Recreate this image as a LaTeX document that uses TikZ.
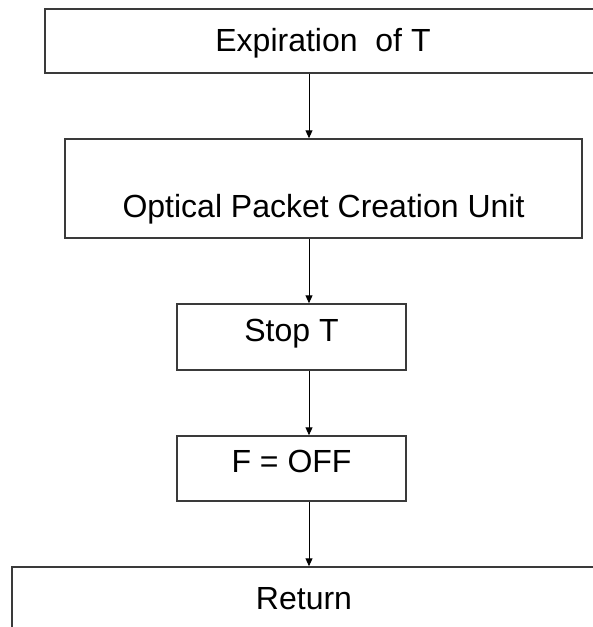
\documentclass[tikz,border=0pt]{standalone}
\usepackage{fontspec}
\setmainfont{Liberation Sans}
\usetikzlibrary{arrows.meta}
\definecolor{boxgray}{HTML}{3A3A3A}
\tikzset{
  box/.style={draw=boxgray, line width=0.75pt, inner sep=0pt,
    text height=11.5pt, text depth=0pt, font=\fontsize{16}{19}\selectfont},
  flow/.style={-{Triangle[length=4pt,width=3.5pt]}, line width=0.5pt}
}
\begin{document}
\begin{tikzpicture}[x=0.5pt,y=-0.5pt]
                \useasboundingbox (0,0) rectangle (593,627);
                \node[box, minimum width=278pt, minimum height=32pt, text depth=1pt] (expiry) at (323,41) {Expiration\ \ of T};
                \node[box, minimum width=258.5pt, minimum height=49.5pt, text height=29pt] (creation) at (323.5,188.5) {Optical Packet Creation Unit};
                \node[box, minimum width=114.5pt, minimum height=33pt, text depth=7pt] (stopt) at (291.5,337) {Stop T};
                \node[box, minimum width=114.5pt, minimum height=32.5pt, text depth=7.5pt] (flagoff) at (291.5,468.5) {F = OFF};
                \node[box, minimum width=292pt, minimum height=31pt] (return) at (304,598) {Return};
                \coordinate (spine) at (309,0);
                \foreach \a/\b in {expiry/creation, creation/stopt, stopt/flagoff, flagoff/return}{
                    \draw[flow] (\a.south -| spine) -- (\b.north -| spine);
                }
            \end{tikzpicture}
\end{document}
